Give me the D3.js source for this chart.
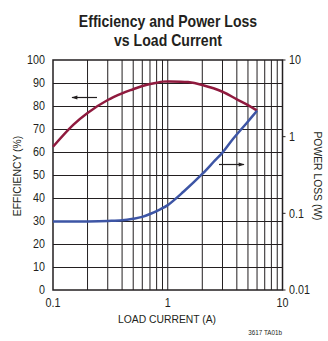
<!DOCTYPE html>
<html>
<head>
<meta charset="utf-8">
<script src="https://cdn.jsdelivr.net/npm/d3@7"></script>
<style>
  html, body { margin: 0; padding: 0; background: #fff; }
  svg { display: block; }
  text { font-family: "Liberation Sans", Arial, sans-serif; fill: #231f20; }
</style>
</head>
<body>
<svg id="chart" width="328" height="341"></svg>
<script>
// Efficiency (left axis, %) vs load current
const effCurrent = [0.1, 0.15, 0.2, 0.3, 0.4, 0.5, 0.6, 0.8, 0.9, 1, 1.5, 2, 3, 4, 5, 6];
const efficiency = [62.3, 71.8, 77, 82.6, 85.5, 87.3, 88.7, 90.1, 90.6, 90.7, 90.4, 89.1, 86.2, 82.9, 80.4, 78];

// Power loss (right axis, W) vs load current
const lossCurrent = [0.1, 0.2, 0.3, 0.4, 0.5, 0.6, 0.7, 0.86, 1, 1.37, 2, 2.58, 3, 3.7, 4.9, 6];
const powerLoss = [0.078, 0.0785, 0.0795, 0.081, 0.085, 0.090, 0.098, 0.113, 0.128, 0.191, 0.326, 0.49, 0.62, 0.93, 1.52, 2.18];

const xTicks = [0.1, 1, 10];
const xTickLabels = ["0.1", "1", "10"];
const effTicks = [0, 10, 20, 30, 40, 50, 60, 70, 80, 90, 100];
const lossTicks = [0.01, 0.1, 1, 10];
const lossTickLabels = ["0.01", "0.1", "1", "10"];

const svg = d3.select("#chart");
const plotL = 53, plotR = 282.5, plotT = 60, plotB = 290;

const x = d3.scaleLog().domain([0.1, 10]).range([plotL, plotR]);
const yEff = d3.scaleLinear().domain([0, 100]).range([plotB, plotT]);
const yLoss = d3.scaleLog().domain([0.01, 10]).range([plotB, plotT]);

// condensed text: placed at (px, py), squeezed horizontally, optional rotation
function label(parent, px, py, str, size, anchor, sx, rot) {
  return parent.append("text")
    .attr("transform", `translate(${px},${py}) rotate(${rot || 0}) scale(${sx},1)`)
    .attr("text-anchor", anchor)
    .style("font-size", size + "px")
    .text(str);
}

// title
label(svg, 168, 27, "Efficiency and Power Loss", 16, "middle", 0.88).style("font-weight", "bold");
label(svg, 168, 45.5, "vs Load Current", 16, "middle", 0.88).style("font-weight", "bold");

// log grid on current axis
const grid = svg.append("g");
const minor = [];
[0.1, 1].forEach(d => { for (let k = 2; k <= 9; k++) minor.push(d * k); });
minor.push(1);
grid.selectAll("line.v").data(minor).join("line")
  .attr("x1", d => x(d)).attr("x2", d => x(d))
  .attr("y1", plotT).attr("y2", plotB)
  .attr("stroke", "#231f20").attr("stroke-width", 1);
grid.selectAll("line.h").data(effTicks.slice(1, -1)).join("line")
  .attr("x1", plotL).attr("x2", plotR)
  .attr("y1", d => yEff(d) + 0.5).attr("y2", d => yEff(d) + 0.5)
  .attr("stroke", "#231f20").attr("stroke-width", 1);

// frame
svg.append("rect")
  .attr("x", plotL).attr("y", plotT)
  .attr("width", plotR - plotL).attr("height", plotB - plotT)
  .attr("fill", "none").attr("stroke", "#231f20").attr("stroke-width", 1.5);

// right axis small ticks
svg.selectAll("line.rt").data(lossTicks).join("line")
  .attr("x1", plotR).attr("x2", plotR + 3)
  .attr("y1", d => yLoss(d)).attr("y2", d => yLoss(d))
  .attr("stroke", "#231f20").attr("stroke-width", 1);

// tick labels
const gl = svg.append("g");
effTicks.forEach(d => label(gl, 45, yEff(d) + 4.3, String(d), 12.5, "end", 0.86));
const gr = svg.append("g");
lossTicks.forEach((d, i) => label(gr, 289, yLoss(d) + 4.3, lossTickLabels[i], 12.5, "start", 0.86));
const gb = svg.append("g");
xTicks.forEach((d, i) => label(gb, x(d), 306.5, xTickLabels[i], 12.5, "middle", 0.86));

// axis titles
label(svg, 167, 322.5, "LOAD CURRENT (A)", 11.5, "middle", 0.9);
label(svg, 21, 176, "EFFICIENCY (%)", 11.5, "middle", 0.9, -90);
label(svg, 314, 176, "POWER LOSS (W)", 11.5, "middle", 0.9, 90);
label(svg, 282, 334.5, "3617 TA01b", 7, "end", 0.9);

// curves
const effLine = d3.line()
  .x((d, i) => x(effCurrent[i])).y(d => yEff(d))
  .curve(d3.curveCatmullRom.alpha(0.5));
svg.append("path").datum(efficiency)
  .attr("d", effLine).attr("fill", "none")
  .attr("stroke", "#8f1a3e").attr("stroke-width", 2.5);

const lossLine = d3.line()
  .x((d, i) => x(lossCurrent[i])).y(d => yLoss(d))
  .curve(d3.curveCatmullRom.alpha(0.5));
svg.append("path").datum(powerLoss)
  .attr("d", lossLine).attr("fill", "none")
  .attr("stroke", "#3d55a5").attr("stroke-width", 2.5);

// arrows pointing to each curve's axis
const defs = svg.append("defs");
defs.append("marker").attr("id", "ah")
  .attr("viewBox", "0 0 10 10").attr("refX", 9).attr("refY", 5)
  .attr("markerWidth", 7).attr("markerHeight", 6)
  .attr("markerUnits", "userSpaceOnUse").attr("orient", "auto")
  .append("path").attr("d", "M0,1.5 L10,5 L0,8.5 Z").attr("fill", "#231f20");
svg.append("line").attr("x1", 97).attr("x2", 72).attr("y1", 97.5).attr("y2", 97.5)
  .attr("stroke", "#231f20").attr("stroke-width", 1.2).attr("marker-end", "url(#ah)");
svg.append("line").attr("x1", 219).attr("x2", 244).attr("y1", 164.5).attr("y2", 164.5)
  .attr("stroke", "#231f20").attr("stroke-width", 1.2).attr("marker-end", "url(#ah)");
</script>
</body>
</html>
